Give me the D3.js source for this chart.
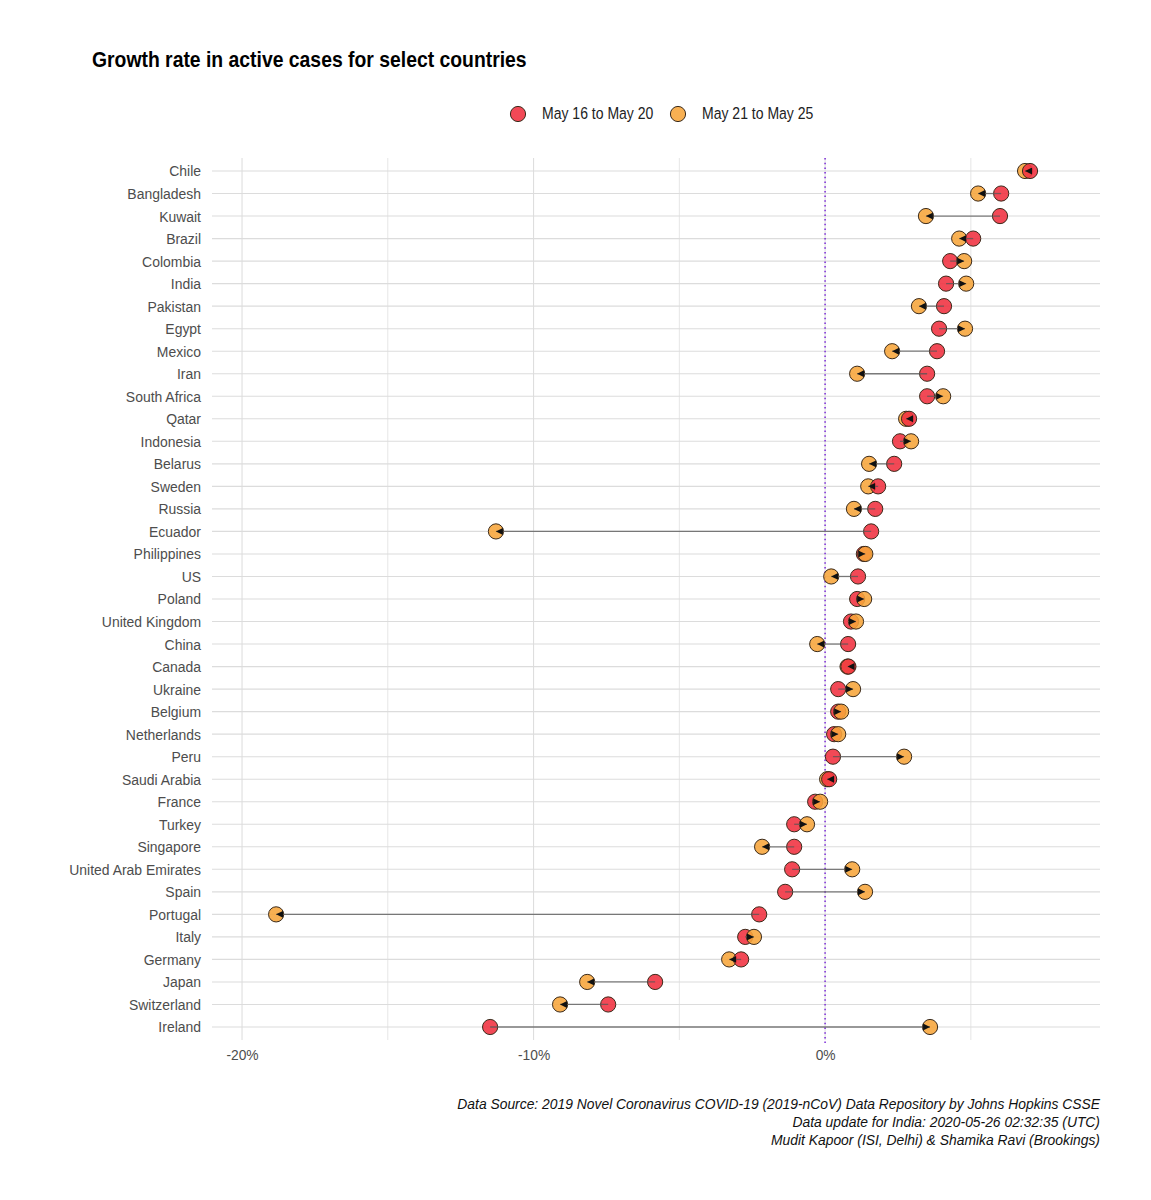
<!DOCTYPE html>
<html><head><meta charset="utf-8">
<script src="https://cdnjs.cloudflare.com/ajax/libs/d3/7.8.5/d3.min.js"></script>
<style>
body{margin:0;background:#fff;}
text{font-family:"Liberation Sans Narrow","Arial Narrow","Liberation Sans",Arial,sans-serif;}
</style></head>
<body><svg id="chart" width="1151" height="1200"></svg>
<script>
const countries = ["Chile","Bangladesh","Kuwait","Brazil","Colombia","India","Pakistan","Egypt","Mexico","Iran","South Africa","Qatar","Indonesia","Belarus","Sweden","Russia","Ecuador","Philippines","US","Poland","United Kingdom","China","Canada","Ukraine","Belgium","Netherlands","Peru","Saudi Arabia","France","Turkey","Singapore","United Arab Emirates","Spain","Portugal","Italy","Germany","Japan","Switzerland","Ireland"];
const may16to20 = [7.03,6.04,6.0,5.08,4.29,4.15,4.08,3.91,3.84,3.5,3.5,2.88,2.57,2.37,1.82,1.72,1.58,1.33,1.13,1.1,0.89,0.79,0.8,0.45,0.45,0.31,0.27,0.14,-0.34,-1.06,-1.06,-1.13,-1.37,-2.26,-2.74,-2.88,-5.83,-7.44,-11.49];
const may21to25 = [6.86,5.25,3.46,4.6,4.77,4.84,3.22,4.8,2.3,1.1,4.05,2.78,2.95,1.51,1.48,0.99,-11.29,1.38,0.21,1.34,1.06,-0.27,0.77,0.96,0.55,0.45,2.71,0.07,-0.17,-0.62,-2.16,0.93,1.37,-18.83,-2.44,-3.29,-8.16,-9.09,3.6];
const seriesNames = ["May 16 to May 20","May 21 to May 25"];
const seriesColors = ["#f0303f","#f7a53a"];
const xTicks = [-20,-10,0];
const xGridMinor = [-15,-5,5];
const captionLines = ["Data Source: 2019 Novel Coronavirus COVID-19 (2019-nCoV) Data Repository by Johns Hopkins CSSE","Data update for India: 2020-05-26 02:32:35 (UTC)","Mudit Kapoor (ISI, Delhi) & Shamika Ravi (Brookings)"];

const svg = d3.select("#chart");
const L = 212, R = 1100, T = 158, B = 1040;
const x = d3.scaleLinear().domain([-21.03, 9.43]).range([L, R]);
const y = d3.scalePoint().domain(countries).range([171, 1027]);

// horizontally condense text around its anchor (no narrow font installed)
function narrow(sel, s) {
  sel.each(function() {
    const t = d3.select(this);
    const ax = +t.attr("x") || 0, ay = +t.attr("y") || 0;
    t.attr("transform", `translate(${ax},${ay}) scale(${s},1) translate(${-ax},${-ay})`);
  });
}

// grid
const g = svg.append("g");
g.selectAll(".minor").data(xGridMinor).enter().append("line")
  .attr("x1", d => x(d)).attr("x2", d => x(d)).attr("y1", T).attr("y2", B)
  .attr("stroke", "#e6e6e6").attr("stroke-width", 1);
g.selectAll(".major").data(xTicks).enter().append("line")
  .attr("x1", d => x(d)).attr("x2", d => x(d)).attr("y1", T).attr("y2", B)
  .attr("stroke", "#dedede").attr("stroke-width", 1.1);
g.selectAll(".hgrid").data(countries).enter().append("line")
  .attr("x1", L).attr("x2", R).attr("y1", d => y(d)).attr("y2", d => y(d))
  .attr("stroke", "#dcdcdc").attr("stroke-width", 1.1);

// zero line
svg.append("line").attr("x1", x(0)).attr("x2", x(0)).attr("y1", T).attr("y2", 1046)
  .attr("stroke", "#7b2ad8").attr("stroke-width", 1.5).attr("stroke-dasharray", "1.5,3.2");

// y axis labels
const yAxis = d3.axisLeft(y).tickSize(0).tickPadding(0);
const ya = svg.append("g").attr("transform", `translate(201,0)`).call(yAxis);
ya.select(".domain").remove();
ya.selectAll("text").attr("font-size", 15.5).attr("fill", "#4d4d4d")
  .style("font-family", '"Liberation Sans",Arial,sans-serif');
narrow(ya.selectAll("text"), 0.9);

// x axis labels
const xAxis = d3.axisBottom(x).tickValues(xTicks).tickSize(0).tickPadding(0).tickFormat(d => d + "%");
const xa = svg.append("g").attr("transform", `translate(0,1045)`).call(xAxis);
xa.select(".domain").remove();
xa.selectAll("text").attr("font-size", 15.5).attr("fill", "#4d4d4d").attr("dy", "0.95em")
  .style("font-family", '"Liberation Sans",Arial,sans-serif');
narrow(xa.selectAll("text"), 0.89);

// segments
const rows = countries.map((c, i) => ({c, a: may16to20[i], b: may21to25[i]}));
svg.append("defs").append("marker").attr("id", "arr")
  .attr("viewBox", "0 0 10 10").attr("refX", 10).attr("refY", 5)
  .attr("markerWidth", 7).attr("markerHeight", 7).attr("markerUnits", "userSpaceOnUse")
  .attr("orient", "auto")
  .append("path").attr("d", "M0,0 L10,5 L0,10 Z").attr("fill", "#111");

// points sorted by value so rightmost is on top
const pts = [];
rows.forEach(r => { pts.push({c: r.c, v: r.a, s: 0}); pts.push({c: r.c, v: r.b, s: 1}); });
pts.sort((p, q) => p.v - q.v);
svg.selectAll(".pt").data(pts).enter().append("circle")
  .attr("cx", d => x(d.v)).attr("cy", d => y(d.c)).attr("r", 7.6)
  .attr("fill", d => seriesColors[d.s]).attr("fill-opacity", 0.88)
  .attr("stroke", "#3a2a1a").attr("stroke-width", 1);

svg.selectAll(".seg").data(rows).enter().append("line")
  .attr("x1", d => x(d.a)).attr("x2", d => x(d.b))
  .attr("y1", d => y(d.c)).attr("y2", d => y(d.c))
  .attr("stroke", "#555").attr("stroke-opacity", 0.75).attr("stroke-width", 1.3)
  .attr("marker-end", "url(#arr)");

// title
const title = svg.append("text").attr("x", 92).attr("y", 67).attr("font-size", 22).attr("font-weight", "bold")
  .attr("fill", "#000").text("Growth rate in active cases for select countries");
narrow(title, 0.88);

// legend
const legX = [518, 678];
seriesNames.forEach((n, i) => {
  svg.append("circle").attr("cx", legX[i]).attr("cy", 114).attr("r", 7.6)
    .attr("fill", seriesColors[i]).attr("fill-opacity", 0.88).attr("stroke", "#3a2a1a").attr("stroke-width", 1);
  const lt = svg.append("text").attr("x", legX[i] + 24).attr("y", 119.5).attr("font-size", 16.5)
    .attr("fill", "#222").text(n);
  narrow(lt, 0.85);
});

// caption
const cap = svg.selectAll(".cap").data(captionLines).enter().append("text")
  .attr("x", 1100).attr("y", (d, i) => 1109 + i * 18).attr("text-anchor", "end")
  .attr("font-size", 15).attr("font-style", "italic").attr("fill", "#111").text(d => d);
narrow(cap, 0.925);
</script></body></html>
